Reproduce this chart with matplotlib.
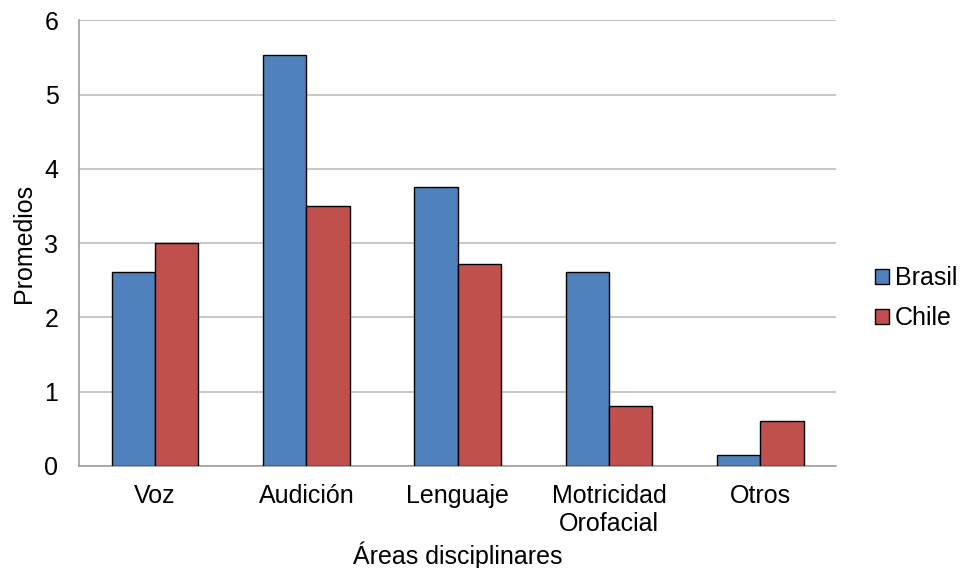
import matplotlib.pyplot as plt
import numpy as np

plt.rcParams['font.family'] = ['Liberation Sans', 'DejaVu Sans']

categorias = ['Voz', 'Audición', 'Lenguaje', 'Motricidad\nOrofacial', 'Otros']
brasil = [2.61, 5.54, 3.76, 2.61, 0.15]
chile = [3.0, 3.5, 2.72, 0.81, 0.60]

fig = plt.figure(figsize=(9.6, 5.68), dpi=100)
ax = fig.add_axes([0.0826, 0.1796, 0.7884, 0.7844])

x = np.arange(len(categorias))
w = 0.286
ax.bar(x - w / 2, brasil, w, color='#4F81BD', edgecolor='black', linewidth=1, label='Brasil', zorder=3)
ax.bar(x + w / 2, chile, w, color='#C0504D', edgecolor='black', linewidth=1, label='Chile', zorder=3)

ax.set_xlim(-0.5, len(categorias) - 0.5)
ax.set_ylim(0, 6)
ax.set_yticks(range(0, 7))
ax.yaxis.grid(True, color='#BFBFBF', linewidth=1.2, zorder=0)
ax.set_xticks(x)
ax.set_xticklabels(categorias, fontsize=18, linespacing=1.2)
ax.tick_params(axis='both', length=0, labelsize=18)
ax.tick_params(axis='y', pad=15)
ax.tick_params(axis='x', pad=13)

for s in ['top', 'right']:
    ax.spines[s].set_visible(False)
for s in ['left', 'bottom']:
    ax.spines[s].set_color('#A0A0A0')
    ax.spines[s].set_linewidth(1.2)

ax.set_ylabel('Promedios', fontsize=18, labelpad=6)
ax.set_xlabel('Áreas disciplinares', fontsize=18, labelpad=4)

fig.legend(loc='center left', bbox_to_anchor=(0.9115, 0.475), frameon=False, fontsize=18,
           handlelength=0.55, handleheight=0.55, handletextpad=0.25, labelspacing=0.65,
           borderaxespad=0, borderpad=0)

fig.savefig('out.png', dpi=100)
